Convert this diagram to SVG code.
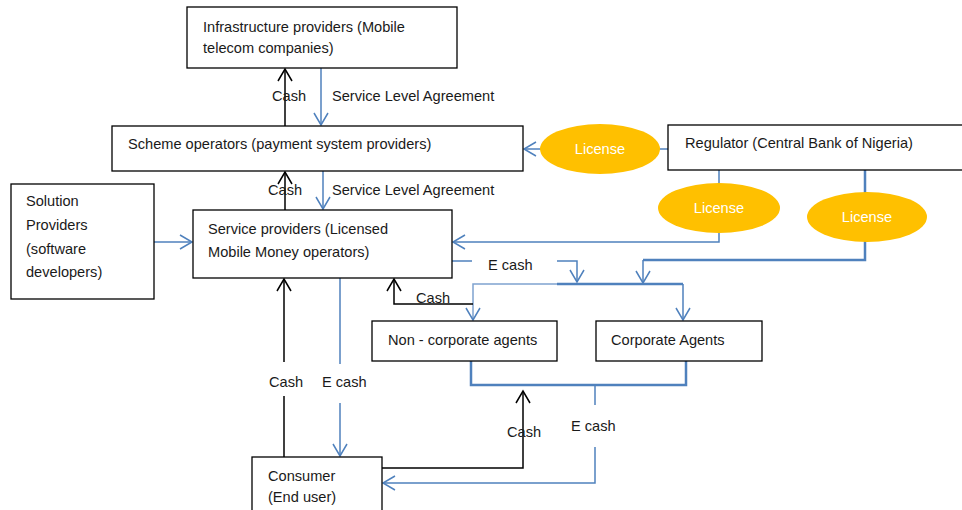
<svg xmlns="http://www.w3.org/2000/svg" width="962" height="510" viewBox="0 0 962 510">
<style>
.box{fill:#fff;stroke:#000;stroke-width:1.3}
.t{font-family:"Liberation Sans",Arial,sans-serif;font-size:14.6px;fill:#1a1a1a}
.lic{font-family:"Liberation Sans",Arial,sans-serif;font-size:14.6px;fill:#fff;text-anchor:middle}
.ell{fill:#FFC000}
.bl{stroke:#4F81BD;stroke-width:1.5;fill:none}
.blt{stroke:#4F81BD;stroke-width:2.5;fill:none}
.blk{stroke:#000;stroke-width:1.5;fill:none}
</style>
<defs>
<marker id="ab" markerWidth="16" markerHeight="16" refX="13" refY="8" orient="auto" markerUnits="userSpaceOnUse"><path d="M1,1 L13,8 L1,15" fill="none" stroke="#4F81BD" stroke-width="1.5"/></marker>
<marker id="ak" markerWidth="16" markerHeight="16" refX="13" refY="8" orient="auto" markerUnits="userSpaceOnUse"><path d="M1,1 L13,8 L1,15" fill="none" stroke="#000" stroke-width="1.5"/></marker>
</defs>
<rect width="962" height="510" fill="#fff"/>
<g id="connectors">
<line class="blk" x1="285" y1="126" x2="285" y2="69" marker-end="url(#ak)"/>
<line class="bl" x1="321" y1="68" x2="321" y2="125" marker-end="url(#ab)"/>
<line class="blk" x1="285" y1="210" x2="285" y2="172" marker-end="url(#ak)"/>
<line class="bl" x1="323" y1="171" x2="323" y2="209" marker-end="url(#ab)"/>
<line class="bl" x1="154" y1="242" x2="192" y2="242" marker-end="url(#ab)"/>
<line class="bl" x1="668" y1="149" x2="524" y2="149" marker-end="url(#ab)"/>
<polyline class="bl" points="719,170 719,242 453,242" marker-end="url(#ab)"/>
<polyline class="blt" points="865,170 865,260 643,260"/>
<line class="bl" x1="643" y1="260" x2="643" y2="283" marker-end="url(#ab)"/>
<line class="bl" x1="452" y1="261" x2="472" y2="261"/>
<polyline class="bl" points="557,261 577,261 577,282" marker-end="url(#ab)"/>
<polyline class="blt" points="557,284 683,284"/>
<line class="bl" x1="683" y1="284" x2="683" y2="320" marker-end="url(#ab)"/>
<polyline class="bl" points="557,284 473,284 473,320" marker-end="url(#ab)" style="stroke:#7FA3D0"/>
<polyline class="blk" points="473,304 394,304 394,279" marker-end="url(#ak)"/>
<polyline class="blt" points="471,361 471,385 686,385 686,361"/>
<line class="blk" x1="284" y1="362" x2="284" y2="279" marker-end="url(#ak)"/>
<line class="blk" x1="284" y1="396" x2="284" y2="457"/>
<line class="bl" x1="340" y1="278" x2="340" y2="364"/>
<line class="bl" x1="340" y1="403" x2="340" y2="456" marker-end="url(#ab)"/>
<polyline class="blk" points="382,468 523,468 523,391" marker-end="url(#ak)"/>
<line class="bl" x1="595" y1="385" x2="595" y2="405"/>
<polyline class="bl" points="595,447 595,483 383,483" marker-end="url(#ab)"/>
<text class="t" x="272" y="101">Cash</text>
<text class="t" x="332" y="101">Service Level Agreement</text>
<text class="t" x="268" y="195">Cash</text>
<text class="t" x="332" y="195">Service Level Agreement</text>
<text class="t" x="488" y="270">E cash</text>
<text class="t" x="416" y="303">Cash</text>
<text class="t" x="269" y="387">Cash</text>
<text class="t" x="322" y="387">E cash</text>
<text class="t" x="507" y="437">Cash</text>
<text class="t" x="571" y="431">E cash</text>
</g>
<g id="infra"><rect class="box" x="187" y="7" width="270" height="61"/><text class="t" x="203" y="32">Infrastructure providers (Mobile</text><text class="t" x="203" y="53">telecom companies)</text></g>
<g id="scheme"><rect class="box" x="112" y="126" width="411" height="45"/><text class="t" x="128" y="149">Scheme operators (payment system providers)</text></g>
<g id="service"><rect class="box" x="193" y="210" width="259" height="68"/><text class="t" x="208" y="234">Service providers (Licensed</text><text class="t" x="208" y="257">Mobile Money operators)</text></g>
<g id="solution"><rect class="box" x="11" y="184" width="143" height="115"/><text class="t" x="26" y="206">Solution</text><text class="t" x="26" y="230">Providers</text><text class="t" x="26" y="254">(software</text><text class="t" x="26" y="277">developers)</text></g>
<g id="regulator"><rect class="box" x="668" y="125" width="310" height="45"/><text class="t" x="685" y="148">Regulator (Central Bank of Nigeria)</text></g>
<g id="license1"><ellipse class="ell" cx="600" cy="149" rx="60" ry="25"/><text class="lic" x="600" y="154">License</text></g>
<g id="license2"><ellipse class="ell" cx="719" cy="208" rx="61" ry="25"/><text class="lic" x="719" y="213">License</text></g>
<g id="license3"><ellipse class="ell" cx="867" cy="217" rx="60" ry="25"/><text class="lic" x="867" y="222">License</text></g>
<g id="noncorp"><rect class="box" x="372" y="321" width="185" height="40"/><text class="t" x="388" y="345">Non - corporate agents</text></g>
<g id="corp"><rect class="box" x="596" y="321" width="166" height="40"/><text class="t" x="611" y="345">Corporate Agents</text></g>
<g id="consumer"><rect class="box" x="252" y="457" width="130" height="60"/><text class="t" x="268" y="481">Consumer</text><text class="t" x="268" y="502">(End user)</text></g>
</svg>
